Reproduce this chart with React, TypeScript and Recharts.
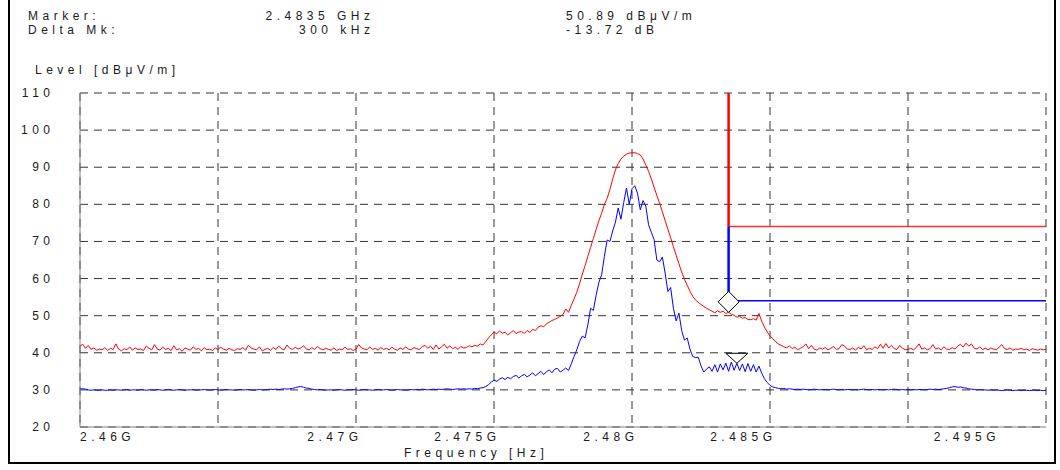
import React from "react";
import {
  LineChart,
  Line,
  XAxis,
  YAxis,
  CartesianGrid,
  ReferenceLine,
  ReferenceDot,
} from "recharts";

// Sweep: 2460 MHz .. 2495 MHz, 0.1 MHz per sample
const START_MHZ = 2460;
const STEP_MHZ = 0.1;

// Peak detector trace (dBµV/m), one row per MHz
const peakLevels = [
  41.8, 42.3, 41.2, 42.0, 40.9, 41.3, 40.7, 41.0, 40.8, 41.4,
  40.6, 41.2, 40.9, 42.4, 41.0, 40.5, 41.1, 40.8, 41.6, 40.7,
  41.3, 40.9, 41.0, 40.6, 41.8, 41.2, 40.8, 42.2, 41.0, 40.7,
  41.5, 40.9, 41.2, 40.6, 41.9, 40.8, 41.1, 40.4, 41.3, 41.0,
  40.7, 41.6, 40.9, 41.2, 40.5, 41.4, 40.8, 41.0, 40.6, 41.3,
  40.9, 41.5, 41.0, 40.7, 41.2, 40.8, 40.6, 41.1, 40.9, 41.4,
  40.7, 42.0, 41.3, 41.0, 40.8, 41.6, 40.5, 40.9, 41.2, 40.7,
  41.4, 40.9, 41.8, 41.1, 40.8, 42.1, 41.2, 40.9, 41.5, 41.0,
  41.3, 41.9, 41.0, 40.8, 41.4, 40.9, 41.7, 41.1, 40.8, 41.2,
  40.9, 40.7, 41.3, 40.6, 41.0, 40.8, 41.5, 40.9, 41.1, 40.6,
  41.0, 42.2, 41.3, 41.0, 40.8, 41.6, 40.9, 41.2, 40.7, 41.4,
  40.9, 41.2, 40.8, 41.5, 41.0, 40.7, 41.3, 40.9, 41.6, 41.0,
  40.8, 41.4, 41.1, 40.9, 41.7, 42.0, 41.2, 41.8, 40.9, 42.1,
  41.0, 41.6, 42.3, 41.2, 41.9, 41.1, 41.5, 40.9, 41.7, 41.3,
  41.4, 41.9, 41.6, 42.0, 41.8, 42.4, 42.1, 43.0, 44.0, 44.8,
  45.6, 45.1, 45.9, 45.3, 45.5, 44.8, 45.4, 46.0, 45.2, 45.6,
  45.7, 45.2, 46.0, 45.5, 46.3, 46.0, 46.9, 47.3, 47.0, 47.8,
  48.2, 48.7, 49.0, 49.4, 49.8, 50.3, 51.8, 50.9, 52.8, 54.5,
  56.3, 58.6, 61.2, 63.5, 66.0, 68.4, 70.8, 73.2, 75.6, 77.6,
  80.0, 81.6, 84.0, 86.8, 89.3, 91.0, 92.2, 93.0, 93.5, 93.8,
  93.9, 93.9, 93.7, 93.3, 92.2, 90.6, 88.9, 86.9, 84.6, 82.4,
  80.3, 78.0, 75.6, 73.3, 71.0, 68.6, 66.3, 64.0, 61.8, 59.8,
  58.2, 56.6, 55.2, 54.2, 53.6, 53.0, 52.5, 52.0, 51.6, 51.2,
  50.8, 51.3, 50.9, 51.2, 50.6, 50.89, 50.4, 50.1, 49.6, 49.8,
  49.3, 49.5, 49.0, 48.9, 49.2, 48.8, 50.6, 48.5, 46.9, 45.6,
  44.5, 43.8, 43.0, 42.4, 42.0, 41.6, 41.3, 41.9, 41.1, 41.5,
  40.8, 41.2, 41.6, 42.4, 41.1, 42.0, 41.0, 40.7, 41.3, 41.0,
  41.4, 40.8, 41.2, 41.7, 40.9, 41.1, 42.2, 41.8, 41.0, 40.9,
  41.3, 40.7, 41.5, 41.0, 41.9, 40.8, 41.2, 40.9, 41.6, 41.1,
  42.3, 41.2, 42.5, 41.3, 42.0, 41.1, 40.9, 42.0, 41.2, 40.8,
  40.9, 41.2, 40.8, 41.4, 42.4, 41.0, 41.3, 40.8, 41.1, 42.2,
  41.0, 41.3, 40.8, 41.6, 41.0, 40.9, 41.4, 41.0, 41.8, 42.3,
  41.5, 42.6, 41.8, 42.4, 41.2, 41.0, 41.6, 40.9, 41.2, 40.8,
  41.3, 41.0, 40.8, 41.5, 42.2, 41.1, 40.9, 41.3, 40.7, 41.0,
  40.9, 41.2, 40.8, 41.0, 40.6, 41.1, 40.9, 40.7, 41.0, 40.8,
  40.9,
];

// Average detector trace (dBµV/m)
const avgLevels = [
  30.3, 30.3, 30.2, 30.0, 29.9, 30.0, 29.9, 29.9, 30.0, 29.9,
  29.9, 30.0, 29.9, 30.0, 30.0, 29.9, 30.0, 30.1, 29.9, 30.0,
  30.0, 29.9, 30.1, 30.0, 29.9, 30.0, 30.0, 29.9, 30.1, 30.0,
  29.9, 30.0, 30.1, 30.0, 29.9, 30.0, 30.1, 30.0, 29.9, 30.0,
  30.0, 30.1, 29.9, 30.0, 30.0, 30.1, 30.0, 29.9, 30.0, 30.1,
  30.0, 29.9, 30.0, 30.1, 30.0, 30.0, 29.9, 30.0, 30.1, 30.0,
  30.0, 30.1, 30.0, 29.9, 30.0, 30.1, 30.0, 30.0, 30.1, 30.2,
  30.1, 30.2, 30.1, 30.2, 30.3, 30.2, 30.3, 30.4, 30.6, 30.8,
  30.9, 30.7, 30.5, 30.4, 30.2, 30.1, 30.0, 30.1, 30.0, 29.9,
  30.0, 30.0, 29.9, 30.0, 30.1, 30.0, 29.9, 30.0, 30.0, 30.1,
  30.0, 29.9, 30.0, 30.1, 30.0, 30.0, 29.9, 30.0, 30.1, 30.0,
  30.0, 30.1, 30.0, 29.9, 30.0, 30.1, 30.0, 30.0, 29.9, 30.0,
  30.1, 30.0, 30.1, 30.0, 30.2, 30.1, 30.0, 30.1, 30.2, 30.1,
  30.2, 30.1, 30.2, 30.3, 30.2, 30.1, 30.2, 30.3, 30.2, 30.3,
  30.2, 30.3, 30.2, 30.4, 30.3, 30.5, 30.6, 30.9, 31.4, 32.1,
  32.6, 32.3, 32.9, 33.3, 32.8, 33.4, 33.0, 33.6, 33.9, 33.2,
  33.8, 34.2, 33.5, 34.0, 34.6, 33.8, 34.4, 35.0, 34.1, 34.9,
  35.4, 34.6, 35.6, 35.8, 34.8, 35.3, 35.9, 35.2, 37.0, 39.0,
  40.8, 43.0, 44.5, 44.0, 47.5, 52.0, 51.4, 55.5, 59.0, 61.0,
  66.0, 70.4, 70.0, 72.8, 75.2, 79.0, 76.0, 80.5, 84.4, 80.0,
  84.2, 85.0, 83.0, 78.5, 81.0, 79.5, 74.5, 72.5, 70.5, 65.0,
  64.5, 65.8, 61.5, 56.5, 57.6, 52.0, 48.6, 50.7, 46.0, 43.4,
  44.0, 41.0, 39.0, 38.7, 38.8, 36.5, 34.8, 35.6, 36.2, 35.0,
  36.8, 34.8, 37.0, 35.4, 37.2, 35.0, 37.5, 35.3, 37.17, 35.2,
  37.0, 34.9, 37.1, 35.0, 36.8, 34.8, 36.4, 34.5, 33.0, 32.0,
  31.2, 30.8, 30.6, 30.4, 30.3, 30.4, 30.2, 30.3, 30.2, 30.1,
  30.2, 30.1, 30.2, 30.1, 30.0, 30.1, 30.2, 30.1, 30.0, 30.1,
  30.1, 30.0, 30.1, 30.2, 30.1, 30.0, 30.1, 30.0, 30.1, 30.1,
  30.0, 30.1, 30.0, 30.1, 30.2, 30.1, 30.0, 30.1, 30.0, 30.1,
  30.1, 30.0, 30.1, 30.0, 30.1, 30.2, 30.1, 30.0, 30.1, 30.0,
  30.1, 30.0, 30.1, 30.0, 30.1, 30.1, 30.0, 30.1, 30.2, 30.1,
  30.2, 30.1, 30.2, 30.3, 30.4, 30.6, 30.8, 30.9, 30.7, 30.8,
  30.6, 30.5, 30.3, 30.2, 30.1, 30.0, 30.1, 30.0, 30.0, 29.9,
  30.0, 29.9, 30.0, 29.9, 29.8, 29.9, 30.0, 29.9, 29.8, 29.9,
  29.9, 29.8, 29.9, 29.9, 29.8, 29.9, 29.9, 29.8, 29.9, 29.8,
  29.9,
];

// Axes
const xTicks = [2460, 2465, 2470, 2475, 2480, 2485, 2490, 2495];
const xTickLabels: Record<number, string> = {
  2460: "2.46G",
  2470: "2.47G",
  2475: "2.475G",
  2480: "2.48G",
  2485: "2.485G",
  2495: "2.495G",
};
const yTicks = [20, 30, 40, 50, 60, 70, 80, 90, 100, 110];

// Markers and limits
const markerFreqMHz = 2483.5;
const markerLevel = 50.89;
const deltaFreqKHz = 300;
const deltaDb = -13.72;
const deltaFreqMHz = markerFreqMHz + deltaFreqKHz / 1000;
const deltaLevel = markerLevel + deltaDb;
const peakLimit = 74;
const avgLimit = 54;

const data = peakLevels.map((p, i) => ({
  f: Math.round((START_MHZ + i * STEP_MHZ) * 10) / 10,
  peak: p,
  avg: avgLevels[i],
}));

const FONT = "'Liberation Sans', Arial, Helvetica, sans-serif";
const SPACING = 4.5;
const TEXT_COLOR = "#1a1a1a";

const XTick = (props: any) => {
  const { x, y, payload } = props;
  const label = xTickLabels[payload.value];
  if (!label) return null;
  let anchor: "start" | "end" = "end";
  let dx = SPACING + 2;
  if (payload.value === 2460) {
    anchor = "start";
    dx = 0;
  }
  if (payload.value === 2495) dx = -46;
  return (
    <text
      x={x + dx}
      y={y + 10}
      textAnchor={anchor}
      dominantBaseline="central"
      fontFamily={FONT}
      fontSize={12}
      fill={TEXT_COLOR}
      style={{ letterSpacing: SPACING }}
    >
      {label}
    </text>
  );
};

const YTick = (props: any) => {
  const { y, payload } = props;
  return (
    <text
      x={50 + SPACING}
      y={y}
      textAnchor="end"
      dominantBaseline="central"
      fontFamily={FONT}
      fontSize={12}
      fill={TEXT_COLOR}
      style={{ letterSpacing: SPACING }}
    >
      {payload.value}
    </text>
  );
};

const Diamond = (props: any) => {
  const { cx, cy } = props;
  const h = 10.5;
  return (
    <path
      d={`M${cx},${cy} L${cx + h},${cy - h} L${cx},${cy - 2 * h} L${cx - h},${cy - h} Z`}
      fill="#ffffff"
      stroke="#000000"
      strokeWidth={1}
    />
  );
};

const DownTriangle = (props: any) => {
  const { cx, cy } = props;
  return (
    <path
      d={`M${cx},${cy} L${cx + 11},${cy - 10} L${cx - 11},${cy - 10} Z`}
      fill="none"
      stroke="#000000"
      strokeWidth={1}
    />
  );
};

const textStyle: React.CSSProperties = {
  position: "absolute",
  fontFamily: FONT,
  fontSize: 12,
  letterSpacing: SPACING,
  color: TEXT_COLOR,
  whiteSpace: "pre",
  lineHeight: "14px",
};

export default function App() {
  return (
    <div
      style={{
        position: "absolute",
        left: 0,
        top: 0,
        width: 1060,
        height: 470,
        background: "#ffffff",
        overflow: "hidden",
      }}
    >
      <div
        style={{
          position: "absolute",
          left: 8,
          top: -4,
          width: 1044,
          height: 466,
          borderLeft: "2px solid #000",
          borderRight: "2px solid #000",
          borderBottom: "2px solid #000",
        }}
      />
      <div style={{ ...textStyle, left: 28, top: 9 }}>Marker:</div>
      <div style={{ ...textStyle, left: 28, top: 23 }}>Delta Mk:</div>
      <div style={{ ...textStyle, right: 1060 - 370 - SPACING, top: 9 }}>
        {(markerFreqMHz / 1000).toFixed(4)} GHz
      </div>
      <div style={{ ...textStyle, right: 1060 - 370 - SPACING, top: 23 }}>
        {deltaFreqKHz} kHz
      </div>
      <div style={{ ...textStyle, left: 566, top: 9 }}>
        {markerLevel.toFixed(2)} dBμV/m
      </div>
      <div style={{ ...textStyle, left: 566, top: 23 }}>
        {deltaDb.toFixed(2)} dB
      </div>
      <div style={{ ...textStyle, left: 35, top: 63 }}>Level [dBμV/m]</div>
      <div style={{ ...textStyle, left: 404, top: 446 }}>Frequency [Hz]</div>

      <LineChart
        width={1060}
        height={470}
        data={data}
        margin={{ top: 93, right: 14, bottom: 13, left: 0 }}
        style={{ position: "absolute", left: 0, top: 0 }}
      >
        <CartesianGrid
          stroke="#333333"
          strokeDasharray="8 6"
          strokeWidth={1}
          fill="none"
        />
        <XAxis
          dataKey="f"
          type="number"
          domain={[2460, 2495]}
          ticks={xTicks}
          interval={0}
          height={30}
          tickLine={false}
          tickSize={0}
          tickMargin={0}
          axisLine={{ stroke: "#808080", strokeWidth: 1 }}
          tick={<XTick />}
          allowDataOverflow
        />
        <YAxis
          type="number"
          domain={[20, 110]}
          ticks={yTicks}
          interval={0}
          width={80}
          tickLine={false}
          axisLine={{ stroke: "#808080", strokeWidth: 1 }}
          tick={<YTick />}
          allowDataOverflow
        />
        <Line
          type="linear"
          dataKey="peak"
          stroke="#ff0000"
          strokeWidth={1}
          dot={false}
          isAnimationActive={false}
        />
        <Line
          type="linear"
          dataKey="avg"
          stroke="#0000ff"
          strokeWidth={1}
          dot={false}
          isAnimationActive={false}
        />
        <ReferenceLine
          segment={[
            { x: markerFreqMHz, y: peakLimit },
            { x: 2495, y: peakLimit },
          ]}
          stroke="#ff3030"
          strokeWidth={1.5}
        />
        <ReferenceLine
          segment={[
            { x: markerFreqMHz, y: 110 },
            { x: markerFreqMHz, y: peakLimit },
          ]}
          stroke="#ff0000"
          strokeWidth={2.5}
        />
        <ReferenceLine
          segment={[
            { x: markerFreqMHz, y: avgLimit },
            { x: 2495, y: avgLimit },
          ]}
          stroke="#0000ff"
          strokeWidth={1.5}
        />
        <ReferenceLine
          segment={[
            { x: markerFreqMHz, y: peakLimit },
            { x: markerFreqMHz, y: avgLimit },
          ]}
          stroke="#0000ff"
          strokeWidth={2.5}
        />
        <ReferenceDot
          x={markerFreqMHz}
          y={markerLevel}
          shape={(p: any) => <Diamond {...p} />}
        />
        <ReferenceDot
          x={deltaFreqMHz}
          y={deltaLevel}
          shape={(p: any) => <DownTriangle {...p} />}
        />
      </LineChart>
    </div>
  );
}
